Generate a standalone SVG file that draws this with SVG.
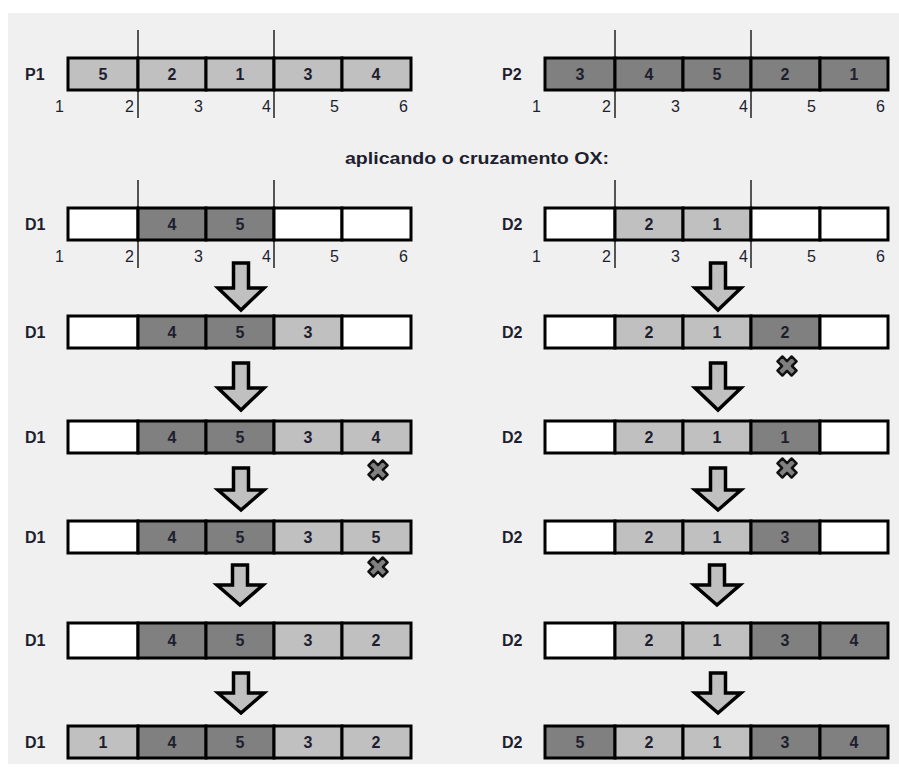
<svg xmlns="http://www.w3.org/2000/svg" width="899" height="767" viewBox="0 0 899 767">
<style>
.c{stroke:#000;stroke-width:3}
.w{fill:#fff}.l{fill:#c0c0c0}.d{fill:#808080}
.v{font-family:"Liberation Sans",Arial,sans-serif;font-weight:bold;font-size:16px;fill:#1e1e2e;text-anchor:middle}
.lab{font-family:"Liberation Sans",Arial,sans-serif;font-weight:bold;font-size:16px;fill:#1e1e2e}
.ax{font-family:"Liberation Sans",Arial,sans-serif;font-size:16px;fill:#1e1e2e;text-anchor:end}
.cut{stroke:#000;stroke-width:1.3}
.arr{fill:#c0c0c0;stroke:#000;stroke-width:3.5;stroke-linejoin:miter}
.xm{fill:#808080;stroke:#111;stroke-width:2.5;stroke-linejoin:round}
</style>
<defs>
<path id="xmark" class="xm" d="M-3.5,-10H3.5V-3.5H10V3.5H3.5V10H-3.5V3.5H-10V-3.5H-3.5Z" transform="rotate(45)"/>
</defs>
<rect x="8" y="13" width="891" height="751" fill="#f0f0f0"/>

<g id="P1">
<text class="lab" x="25" y="80">P1</text>
<rect class="c l" x="68" y="58" width="70" height="32"/><rect class="c l" x="138" y="58" width="68" height="32"/><rect class="c l" x="206" y="58" width="68" height="32"/><rect class="c l" x="274" y="58" width="68" height="32"/><rect class="c l" x="342" y="58" width="69" height="32"/>
<text class="v" x="103" y="80">5</text><text class="v" x="172" y="80">2</text><text class="v" x="240" y="80">1</text><text class="v" x="308" y="80">3</text><text class="v" x="376" y="80">4</text>
<line class="cut" x1="138" y1="30" x2="138" y2="118"/><line class="cut" x1="274" y1="30" x2="274" y2="118"/>
<text class="ax" x="64" y="112">1</text><text class="ax" x="134" y="112">2</text><text class="ax" x="203" y="112">3</text><text class="ax" x="271" y="112">4</text><text class="ax" x="339" y="112">5</text><text class="ax" x="408" y="112">6</text>
</g>

<g id="P2">
<text class="lab" x="502" y="80">P2</text>
<rect class="c d" x="545" y="58" width="70" height="32"/><rect class="c d" x="615" y="58" width="68" height="32"/><rect class="c d" x="683" y="58" width="68" height="32"/><rect class="c d" x="751" y="58" width="69" height="32"/><rect class="c d" x="820" y="58" width="68" height="32"/>
<text class="v" x="580" y="80">3</text><text class="v" x="649" y="80">4</text><text class="v" x="717" y="80">5</text><text class="v" x="785" y="80">2</text><text class="v" x="854" y="80">1</text>
<line class="cut" x1="615" y1="30" x2="615" y2="118"/><line class="cut" x1="751" y1="30" x2="751" y2="118"/>
<text class="ax" x="541" y="112">1</text><text class="ax" x="611" y="112">2</text><text class="ax" x="680" y="112">3</text><text class="ax" x="748" y="112">4</text><text class="ax" x="816" y="112">5</text><text class="ax" x="885" y="112">6</text>
</g>

<g id="title">
<text x="477" y="164" font-family="'Liberation Sans',Arial,sans-serif" font-weight="bold" font-size="17" fill="#1e1e2e" text-anchor="middle" textLength="264" lengthAdjust="spacingAndGlyphs">aplicando o cruzamento OX:</text>
</g>

<g id="D1-1">
<text class="lab" x="25" y="230">D1</text>
<rect class="c w" x="68" y="208" width="70" height="32"/><rect class="c d" x="138" y="208" width="68" height="32"/><rect class="c d" x="206" y="208" width="68" height="32"/><rect class="c w" x="274" y="208" width="68" height="32"/><rect class="c w" x="342" y="208" width="69" height="32"/>
<text class="v" x="172" y="230">4</text><text class="v" x="240" y="230">5</text>
<line class="cut" x1="138" y1="180" x2="138" y2="268"/><line class="cut" x1="274" y1="180" x2="274" y2="268"/>
<text class="ax" x="64" y="262">1</text><text class="ax" x="134" y="262">2</text><text class="ax" x="203" y="262">3</text><text class="ax" x="271" y="262">4</text><text class="ax" x="339" y="262">5</text><text class="ax" x="408" y="262">6</text>
</g>

<g id="D2-1">
<text class="lab" x="502" y="230">D2</text>
<rect class="c w" x="545" y="208" width="70" height="32"/><rect class="c l" x="615" y="208" width="68" height="32"/><rect class="c l" x="683" y="208" width="68" height="32"/><rect class="c w" x="751" y="208" width="69" height="32"/><rect class="c w" x="820" y="208" width="68" height="32"/>
<text class="v" x="649" y="230">2</text><text class="v" x="717" y="230">1</text>
<line class="cut" x1="615" y1="180" x2="615" y2="268"/><line class="cut" x1="751" y1="180" x2="751" y2="268"/>
<text class="ax" x="541" y="262">1</text><text class="ax" x="611" y="262">2</text><text class="ax" x="680" y="262">3</text><text class="ax" x="748" y="262">4</text><text class="ax" x="816" y="262">5</text><text class="ax" x="885" y="262">6</text>
</g>

<g id="D1-2">
<text class="lab" x="25" y="338">D1</text>
<rect class="c w" x="68" y="316" width="70" height="32"/><rect class="c d" x="138" y="316" width="68" height="32"/><rect class="c d" x="206" y="316" width="68" height="32"/><rect class="c l" x="274" y="316" width="68" height="32"/><rect class="c w" x="342" y="316" width="69" height="32"/>
<text class="v" x="172" y="338">4</text><text class="v" x="240" y="338">5</text><text class="v" x="308" y="338">3</text>
</g>

<g id="D2-2">
<text class="lab" x="502" y="338">D2</text>
<rect class="c w" x="545" y="316" width="70" height="32"/><rect class="c l" x="615" y="316" width="68" height="32"/><rect class="c l" x="683" y="316" width="68" height="32"/><rect class="c d" x="751" y="316" width="69" height="32"/><rect class="c w" x="820" y="316" width="68" height="32"/>
<text class="v" x="649" y="338">2</text><text class="v" x="717" y="338">1</text><text class="v" x="785" y="338">2</text>
<use href="#xmark" x="787" y="366"/>
</g>

<g id="D1-3">
<text class="lab" x="25" y="443">D1</text>
<rect class="c w" x="68" y="421" width="70" height="32"/><rect class="c d" x="138" y="421" width="68" height="32"/><rect class="c d" x="206" y="421" width="68" height="32"/><rect class="c l" x="274" y="421" width="68" height="32"/><rect class="c l" x="342" y="421" width="69" height="32"/>
<text class="v" x="172" y="443">4</text><text class="v" x="240" y="443">5</text><text class="v" x="308" y="443">3</text><text class="v" x="376" y="443">4</text>
<use href="#xmark" x="378" y="470"/>
</g>

<g id="D2-3">
<text class="lab" x="502" y="443">D2</text>
<rect class="c w" x="545" y="421" width="70" height="32"/><rect class="c l" x="615" y="421" width="68" height="32"/><rect class="c l" x="683" y="421" width="68" height="32"/><rect class="c d" x="751" y="421" width="69" height="32"/><rect class="c w" x="820" y="421" width="68" height="32"/>
<text class="v" x="649" y="443">2</text><text class="v" x="717" y="443">1</text><text class="v" x="785" y="443">1</text>
<use href="#xmark" x="787" y="468"/>
</g>

<g id="D1-4">
<text class="lab" x="25" y="543">D1</text>
<rect class="c w" x="68" y="521" width="70" height="32"/><rect class="c d" x="138" y="521" width="68" height="32"/><rect class="c d" x="206" y="521" width="68" height="32"/><rect class="c l" x="274" y="521" width="68" height="32"/><rect class="c l" x="342" y="521" width="69" height="32"/>
<text class="v" x="172" y="543">4</text><text class="v" x="240" y="543">5</text><text class="v" x="308" y="543">3</text><text class="v" x="376" y="543">5</text>
<use href="#xmark" x="378" y="567"/>
</g>

<g id="D2-4">
<text class="lab" x="502" y="543">D2</text>
<rect class="c w" x="545" y="521" width="70" height="32"/><rect class="c l" x="615" y="521" width="68" height="32"/><rect class="c l" x="683" y="521" width="68" height="32"/><rect class="c d" x="751" y="521" width="69" height="32"/><rect class="c w" x="820" y="521" width="68" height="32"/>
<text class="v" x="649" y="543">2</text><text class="v" x="717" y="543">1</text><text class="v" x="785" y="543">3</text>
</g>

<g id="D1-5">
<text class="lab" x="25" y="646">D1</text>
<rect class="c w" x="68" y="623" width="70" height="35"/><rect class="c d" x="138" y="623" width="68" height="35"/><rect class="c d" x="206" y="623" width="68" height="35"/><rect class="c l" x="274" y="623" width="68" height="35"/><rect class="c l" x="342" y="623" width="69" height="35"/>
<text class="v" x="172" y="646">4</text><text class="v" x="240" y="646">5</text><text class="v" x="308" y="646">3</text><text class="v" x="376" y="646">2</text>
</g>

<g id="D2-5">
<text class="lab" x="502" y="646">D2</text>
<rect class="c w" x="545" y="623" width="70" height="35"/><rect class="c l" x="615" y="623" width="68" height="35"/><rect class="c l" x="683" y="623" width="68" height="35"/><rect class="c d" x="751" y="623" width="69" height="35"/><rect class="c d" x="820" y="623" width="68" height="35"/>
<text class="v" x="649" y="646">2</text><text class="v" x="717" y="646">1</text><text class="v" x="785" y="646">3</text><text class="v" x="854" y="646">4</text>
</g>

<g id="D1-6">
<text class="lab" x="25" y="748">D1</text>
<rect class="c l" x="68" y="726" width="70" height="32"/><rect class="c d" x="138" y="726" width="68" height="32"/><rect class="c d" x="206" y="726" width="68" height="32"/><rect class="c l" x="274" y="726" width="68" height="32"/><rect class="c l" x="342" y="726" width="69" height="32"/>
<text class="v" x="103" y="748">1</text><text class="v" x="172" y="748">4</text><text class="v" x="240" y="748">5</text><text class="v" x="308" y="748">3</text><text class="v" x="376" y="748">2</text>
</g>

<g id="D2-6">
<text class="lab" x="502" y="748">D2</text>
<rect class="c d" x="545" y="726" width="70" height="32"/><rect class="c l" x="615" y="726" width="68" height="32"/><rect class="c l" x="683" y="726" width="68" height="32"/><rect class="c d" x="751" y="726" width="69" height="32"/><rect class="c d" x="820" y="726" width="68" height="32"/>
<text class="v" x="580" y="748">5</text><text class="v" x="649" y="748">2</text><text class="v" x="717" y="748">1</text><text class="v" x="785" y="748">3</text><text class="v" x="854" y="748">4</text>
</g>

<g id="connectors">
<path class="arr" d="M233.5,263H248.5V288H264L241,310L218,288H233.5Z"/>
<path class="arr" d="M233.5,363H248.5V388H264L241,410L218,388H233.5Z"/>
<path class="arr" d="M233.5,468H248.5V490H264L241,510L218,490H233.5Z"/>
<path class="arr" d="M232.5,565H247.5V585H263L240,605L217,585H232.5Z"/>
<path class="arr" d="M233.5,673H248.5V693H264L241,713L218,693H233.5Z"/>
<path class="arr" d="M710.5,263H725.5V288H741L718,310L695,288H710.5Z"/>
<path class="arr" d="M710.5,363H725.5V388H741L718,410L695,388H710.5Z"/>
<path class="arr" d="M710.5,468H725.5V490H741L718,510L695,490H710.5Z"/>
<path class="arr" d="M709.5,565H724.5V585H740L717,605L694,585H709.5Z"/>
<path class="arr" d="M710.5,673H725.5V693H741L718,713L695,693H710.5Z"/>
</g>
</svg>
